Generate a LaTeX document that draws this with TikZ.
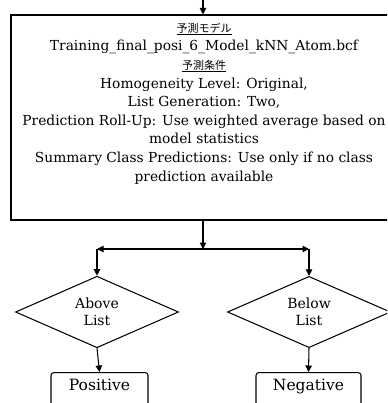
\documentclass[tikz,border=0pt]{standalone}
\usepackage{fontspec}
\setmainfont{DejaVu Serif}
\newfontfamily\jpfont{Noto Sans CJK JP}
\usetikzlibrary{shapes.geometric,arrows.meta}
\newcommand{\jpline}[1]{{\jpfont\fontsize{11}{12}\selectfont\setbox0\hbox{#1}\rlap{\raisebox{-1.8pt}{\rule{\wd0}{0.5pt}}}\box0}}
\begin{document}
\begin{tikzpicture}[x=1pt,y=-1pt,
  line width=1.05pt,
  arr/.style={-{Triangle[length=6.5pt,width=6.5pt]}},
  mainbox/.style={draw, rectangle, minimum width=384pt, minimum height=205pt, inner sep=0pt},
  infotext/.style={align=center, inner sep=0pt, font=\fontsize{13.8}{18.6}\selectfont},
  decision/.style={draw, diamond, minimum width=163pt, minimum height=70pt, inner sep=0pt, align=center, font=\fontsize{14}{17}\selectfont},
  result/.style={draw, rounded corners=3pt, text height=14pt, text depth=18pt, inner ysep=4pt, font=\fontsize{15.5}{17}\selectfont}
]
\clip (0,0) rectangle (387,403);
\coordinate (start) at (203,0);
\node[mainbox] (main) at (203,117.5) {};
\node[infotext, anchor=north] (info) at (204,22.5) {%
\jpline{予測モデル}\\
Training\_final\_posi\_6\_Model\_kNN\_Atom.bcf\\
\jpline{予測条件}\\
Homogeneity Level: Original,\\
List Generation: Two,\\
Prediction Roll-Up: Use weighted average based on\\
model statistics\\
Summary Class Predictions: Use only if no class\\
prediction available};
\coordinate (junc) at (203,249);
\coordinate (jl) at (97,249);
\coordinate (jr) at (309,249);
\node[decision] (above) at (97,312) {Above\\List};
\node[decision] (below) at (309,312) {Below\\List};
\node[result, anchor=north, minimum width=97pt] (pos) at (99.5,372) {Positive};
\node[result, anchor=north, minimum width=105pt] (neg) at (308.5,372) {Negative};
\draw[arr] (start) -- (main.north);
\draw[arr] (main.south) -- (junc);
\draw[arr] (junc) -- (jl);
\draw[arr] (junc) -- (jr);
\draw[arr] (jl) -- (above.north);
\draw[arr] (jr) -- (below.north);
\draw[arr] (above.south) -- (pos.north);
\draw[arr] (below.south) -- (neg.north);
\end{tikzpicture}
\end{document}
